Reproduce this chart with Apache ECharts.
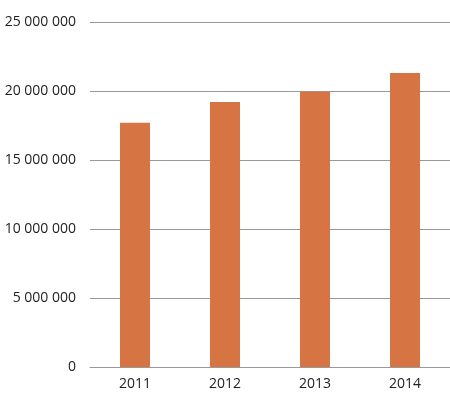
<!DOCTYPE html>
<html><head><meta charset="utf-8">
<script src="https://cdn.jsdelivr.net/npm/echarts@6/dist/echarts.min.js"></script>
<style>html,body{margin:0;padding:0;background:#fff}#c{width:450px;height:411px}</style>
</head><body><div id="c"></div>
<script>
const categories = ['2011','2012','2013','2014'];
const values = [17700000, 19200000, 19950000, 21300000];
const chart = echarts.init(document.getElementById('c'));
const fmt = v => String(v).replace(/\B(?=(\d{3})+(?!\d))/g, ' ');
chart.setOption({
  animation:false,
  grid:{left:90,right:0,top:22,bottom:44},
  xAxis:{type:'category',data:categories,
    axisLine:{lineStyle:{color:'#999'}},axisTick:{show:false},
    axisLabel:{color:'#222',fontSize:14,fontFamily:'Open Sans',margin:10}},
  yAxis:{type:'value',min:0,max:25000000,interval:5000000,
    axisLine:{show:false},axisTick:{show:false},
    splitLine:{lineStyle:{color:'#999'}},
    axisLabel:{color:'#222',fontSize:14,fontFamily:'Open Sans',margin:14,formatter:fmt}},
  series:[{type:'bar',data:values,barWidth:30,itemStyle:{color:'#d67444'}}]
});
</script></body></html>
